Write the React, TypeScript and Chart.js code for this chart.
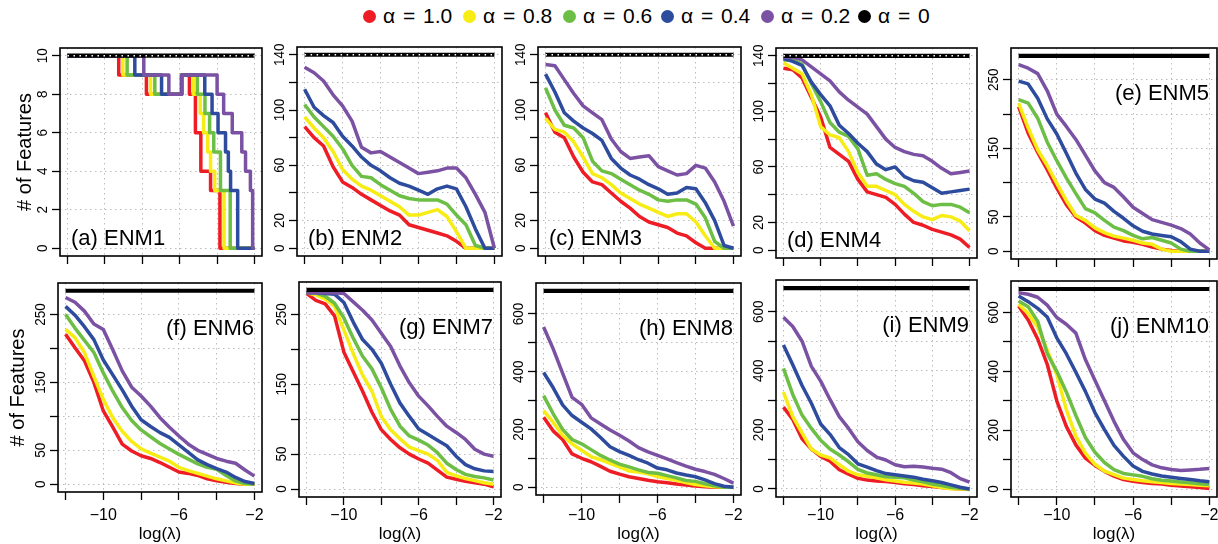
import React, { useEffect, useRef } from 'react';
import { Chart, registerables } from 'chart.js';
Chart.register(...registerables);

const FONT = '"Liberation Sans", Arial, Helvetica, sans-serif';

// ---------- data ----------
const LOG_LAMBDA = [-12, -11.5, -11, -10.5, -10, -9.5, -9, -8.5, -8, -7.5, -7, -6.5, -6, -5.5, -5, -4.5, -4, -3.5, -3, -2.5, -2];
const X_TICKS = [-12, -10, -8, -6, -4, -2];
const X_TICK_LABELS = [-10, -6, -2];
const ALPHA_LABELS = ['α = 1.0', 'α = 0.8', 'α = 0.6', 'α = 0.4', 'α = 0.2', 'α = 0'];
const COLORS = ['#EE1C25', '#F7EC13', '#6DBE45', '#2E4C9E', '#7B52A3', '#000000'];
const PANEL_NAMES = ['(a) ENM1', '(b) ENM2', '(c) ENM3', '(d) ENM4', '(e) ENM5', '(f) ENM6', '(g) ENM7', '(h) ENM8', '(i) ENM9', '(j) ENM10'];
const TOTAL_FEATURES = [10, 140, 140, 140, 285, 285, 285, 680, 680, 680];

const Y_TICKS_A = [0, 2, 4, 6, 8, 10];
const Y_LABELS_A = [0, 2, 4, 6, 8, 10];
const Y_TICKS_140 = [0, 20, 40, 60, 80, 100, 120, 140];
const Y_LABELS_140 = [0, 20, 60, 100, 140];
const Y_TICKS_285 = [0, 50, 100, 150, 200, 250];
const Y_LABELS_285 = [0, 50, 150, 250];
const Y_TICKS_680 = [0, 100, 200, 300, 400, 500, 600];
const Y_LABELS_680 = [0, 200, 400, 600];

// (a) ENM1 — step series, [log(lambda), features]
const ENM1_A10 = [[-12, 10], [-9.26, 9], [-7.78, 8], [-5.9, 9], [-5.48, 8], [-5.16, 6], [-4.87, 4], [-4.35, 3], [-3.85, 0], [-2, 0]];
const ENM1_A08 = [[-12, 10], [-9.04, 9], [-7.56, 8], [-5.9, 9], [-5.28, 8], [-4.9, 7], [-4.72, 6], [-4.5, 5], [-4.35, 4], [-4.13, 3], [-3.63, 0], [-2, 0]];
const ENM1_A06 = [[-12, 10], [-8.81, 9], [-7.33, 8], [-5.9, 9], [-5.06, 8], [-4.65, 7], [-4.4, 6], [-4.18, 5], [-3.82, 3], [-3.3, 0], [-2, 0]];
const ENM1_A04 = [[-12, 10], [-8.4, 9], [-6.97, 8], [-5.9, 9], [-4.66, 8], [-4.27, 7], [-3.95, 6], [-3.55, 5], [-3.4, 4], [-3.28, 3], [-2.9, 0], [-2, 0]];
const ENM1_A02 = [[-12, 10], [-7.92, 9], [-6.58, 8], [-5.88, 9], [-4.0, 8], [-3.65, 7], [-3.19, 6], [-2.68, 5], [-2.48, 4], [-2.22, 3], [-2.1, 0], [-2, 0]];

// (b) ENM2
const ENM2_A10 = [88, 80, 74, 59, 48, 44, 39, 35, 31, 27, 24, 17, 15, 13, 11, 9, 5, 0, 0, 0, 0];
const ENM2_A08 = [95, 87, 80, 70, 57, 50, 45, 42, 38, 34, 30, 24, 24, 26, 28, 23, 12, 0, 0, 0, 0];
const ENM2_A06 = [104, 95, 88, 81, 72, 60, 52, 51, 46, 42, 38, 36, 35, 35, 35, 32, 24, 17, 2, 0, 0];
const ENM2_A04 = [115, 102, 96, 91, 81, 74, 66, 60, 56, 51, 47, 45, 42, 39, 43, 45, 43, 30, 14, 0, 0];
const ENM2_A02 = [131, 127, 121, 111, 103, 92, 73, 69, 70, 66, 62, 58, 54, 55, 56, 58, 58, 51, 39, 26, 0];

// (c) ENM3
const ENM3_A10 = [98, 84, 80, 66, 55, 48, 46, 40, 34, 29, 23, 19, 17, 15, 11, 9, 4, 0, 0, 0, 0];
const ENM3_A08 = [94, 86, 84, 77, 66, 54, 51, 46, 40, 36, 32, 29, 26, 23, 25, 25, 19, 9, 0, 0, 0];
const ENM3_A06 = [116, 100, 89, 87, 80, 63, 56, 54, 50, 46, 42, 39, 35, 34, 35, 35, 32, 22, 5, 0, 0];
const ENM3_A04 = [126, 113, 98, 92, 87, 83, 78, 65, 58, 53, 50, 46, 43, 39, 40, 44, 43, 33, 20, 2, 0];
const ENM3_A02 = [133, 132, 122, 112, 103, 98, 93, 79, 70, 65, 66, 67, 59, 56, 53, 54, 60, 58, 48, 34, 16];

// (d) ENM4
const ENM4_A10 = [131, 130, 124, 110, 96, 74, 69, 64, 51, 42, 40, 38, 33, 26, 20, 18, 15, 13, 11, 8, 2];
const ENM4_A08 = [135, 131, 127, 112, 89, 83, 81, 71, 56, 46, 46, 43, 40, 33, 28, 24, 22, 25, 24, 21, 14];
const ENM4_A06 = [137, 137, 134, 120, 107, 92, 85, 82, 73, 54, 55, 51, 48, 46, 41, 35, 32, 33, 33, 31, 27];
const ENM4_A04 = [138, 136, 133, 121, 112, 104, 90, 84, 77, 71, 62, 58, 60, 53, 50, 49, 45, 41, 42, 43, 44];
const ENM4_A02 = [139, 139, 137, 132, 127, 122, 114, 108, 103, 98, 89, 80, 74, 71, 69, 68, 64, 59, 55, 56, 57];

// (e) ENM5
const ENM5_A10 = [211, 172, 144, 119, 92, 68, 50, 41, 30, 23, 19, 15, 13, 10, 6, 3, 1, 0, 0, 0, 0];
const ENM5_A08 = [216, 180, 148, 125, 99, 74, 52, 45, 34, 27, 22, 19, 16, 12, 10, 3, 0, 0, 0, 0, 0];
const ENM5_A06 = [221, 216, 194, 159, 132, 107, 84, 62, 56, 45, 35, 30, 23, 18, 20, 16, 12, 3, 0, 0, 0];
const ENM5_A04 = [248, 244, 223, 193, 171, 143, 114, 90, 76, 70, 58, 48, 37, 29, 25, 23, 21, 14, 3, 0, 0];
const ENM5_A02 = [272, 267, 259, 234, 200, 182, 163, 140, 117, 100, 93, 79, 64, 55, 46, 42, 38, 33, 25, 12, 2];

// (f) ENM6
const ENM6_A10 = [221, 201, 182, 150, 108, 84, 59, 49, 42, 38, 32, 25, 18, 16, 13, 8, 5, 3, 1, 0, 0];
const ENM6_A08 = [228, 216, 194, 159, 125, 98, 78, 63, 52, 46, 40, 34, 25, 20, 16, 12, 8, 5, 2, 0, 0];
const ENM6_A06 = [250, 230, 212, 194, 164, 137, 113, 94, 80, 70, 60, 52, 44, 37, 30, 25, 22, 13, 5, 1, 0];
const ENM6_A04 = [262, 249, 232, 213, 183, 161, 139, 115, 95, 85, 76, 69, 58, 47, 36, 29, 23, 18, 10, 4, 1];
const ENM6_A02 = [275, 268, 255, 236, 228, 198, 167, 143, 130, 115, 98, 84, 71, 59, 50, 44, 38, 34, 31, 21, 12];

// (g) ENM7
const ENM7_A10 = [280, 270, 265, 248, 196, 168, 140, 110, 85, 71, 59, 50, 43, 37, 27, 17, 14, 11, 9, 7, 3];
const ENM7_A08 = [281, 278, 272, 262, 228, 194, 163, 140, 104, 85, 72, 60, 55, 50, 41, 24, 19, 15, 12, 9, 7];
const ENM7_A06 = [281, 281, 276, 266, 245, 216, 190, 172, 145, 114, 90, 76, 70, 63, 52, 37, 28, 21, 18, 16, 13];
const ENM7_A04 = [281, 281, 280, 279, 267, 239, 214, 200, 180, 150, 123, 104, 86, 78, 70, 62, 47, 35, 29, 26, 25];
const ENM7_A02 = [281, 281, 281, 281, 280, 268, 256, 242, 223, 204, 176, 152, 133, 119, 104, 90, 81, 71, 57, 50, 47];

// (h) ENM8
const ENM8_A10 = [242, 195, 165, 115, 100, 88, 72, 55, 45, 36, 30, 24, 19, 15, 11, 7, 4, 1, 0, 0, 0];
const ENM8_A08 = [265, 225, 180, 150, 128, 106, 95, 82, 70, 56, 52, 46, 37, 30, 24, 16, 9, 5, 1, 0, 0];
const ENM8_A06 = [317, 255, 200, 165, 150, 130, 110, 94, 80, 70, 60, 51, 48, 40, 32, 23, 20, 12, 5, 0, 0];
const ENM8_A04 = [397, 345, 285, 248, 225, 202, 172, 140, 123, 110, 95, 83, 66, 60, 49, 42, 36, 25, 12, 3, 0];
const ENM8_A02 = [555, 480, 395, 311, 287, 240, 219, 198, 180, 160, 137, 122, 110, 98, 85, 73, 62, 54, 44, 30, 14];

// (i) ENM9
const ENM9_A10 = [277, 235, 170, 135, 110, 94, 65, 50, 36, 30, 27, 25, 22, 18, 15, 11, 8, 5, 2, 0, 0];
const ENM9_A08 = [328, 245, 190, 135, 115, 105, 82, 60, 48, 43, 38, 31, 27, 23, 20, 17, 11, 5, 1, 0, 0];
const ENM9_A06 = [408, 320, 250, 205, 165, 135, 115, 92, 66, 54, 48, 41, 40, 38, 30, 24, 17, 12, 6, 2, 0];
const ENM9_A04 = [487, 420, 350, 290, 220, 185, 140, 116, 85, 74, 62, 52, 48, 44, 40, 33, 28, 22, 14, 6, 0];
const ENM9_A02 = [581, 550, 500, 415, 365, 303, 245, 205, 160, 130, 108, 98, 82, 75, 77, 74, 70, 67, 55, 35, 23];

// (j) ENM10
const ENM10_A10 = [622, 575, 510, 424, 300, 213, 150, 105, 80, 60, 44, 32, 26, 22, 19, 17, 13, 10, 8, 5, 2];
const ENM10_A08 = [628, 597, 550, 473, 389, 270, 180, 122, 84, 61, 49, 37, 32, 28, 25, 22, 19, 17, 15, 13, 11];
const ENM10_A06 = [639, 620, 570, 460, 400, 330, 250, 175, 125, 90, 66, 53, 48, 43, 35, 30, 27, 24, 21, 18, 15];
const ENM10_A04 = [656, 637, 614, 585, 514, 460, 397, 332, 260, 202, 148, 111, 78, 60, 51, 44, 40, 36, 32, 28, 25];
const ENM10_A02 = [667, 662, 652, 625, 583, 560, 530, 440, 370, 300, 230, 168, 123, 100, 82, 72, 66, 63, 65, 67, 70];

const SERIES = [
  [ENM1_A10, ENM1_A08, ENM1_A06, ENM1_A04, ENM1_A02],
  [ENM2_A10, ENM2_A08, ENM2_A06, ENM2_A04, ENM2_A02],
  [ENM3_A10, ENM3_A08, ENM3_A06, ENM3_A04, ENM3_A02],
  [ENM4_A10, ENM4_A08, ENM4_A06, ENM4_A04, ENM4_A02],
  [ENM5_A10, ENM5_A08, ENM5_A06, ENM5_A04, ENM5_A02],
  [ENM6_A10, ENM6_A08, ENM6_A06, ENM6_A04, ENM6_A02],
  [ENM7_A10, ENM7_A08, ENM7_A06, ENM7_A04, ENM7_A02],
  [ENM8_A10, ENM8_A08, ENM8_A06, ENM8_A04, ENM8_A02],
  [ENM9_A10, ENM9_A08, ENM9_A06, ENM9_A04, ENM9_A02],
  [ENM10_A10, ENM10_A08, ENM10_A06, ENM10_A04, ENM10_A02],
];

// ---------- layout (page pixels) ----------
const BOXES = [
  { l: 60, r: 262, t: 48, b: 256 },
  { l: 297, r: 502, t: 47, b: 256 },
  { l: 538, r: 741, t: 47, b: 256 },
  { l: 776, r: 977, t: 48, b: 258 },
  { l: 1011, r: 1217, t: 48, b: 259 },
  { l: 58, r: 262, t: 283, b: 492 },
  { l: 299, r: 501, t: 282, b: 497 },
  { l: 536, r: 741, t: 283, b: 495 },
  { l: 776, r: 977, t: 280, b: 497 },
  { l: 1011, r: 1217, t: 281, b: 497 },
];
const Y_TICK_SETS = [Y_TICKS_A, Y_TICKS_140, Y_TICKS_140, Y_TICKS_140, Y_TICKS_285, Y_TICKS_285, Y_TICKS_285, Y_TICKS_680, Y_TICKS_680, Y_TICKS_680];
const Y_LABEL_SETS = [Y_LABELS_A, Y_LABELS_140, Y_LABELS_140, Y_LABELS_140, Y_LABELS_285, Y_LABELS_285, Y_LABELS_285, Y_LABELS_680, Y_LABELS_680, Y_LABELS_680];
const LEGEND_X = [370, 470, 570, 668, 768, 865];

function Panel({ idx }: { idx: number }) {
  const ref = useRef<HTMLCanvasElement | null>(null);
  const box = BOXES[idx];
  const row = idx < 5 ? 0 : 1;
  const col = idx % 5;
  const leftSpace = col === 0 ? box.l : 50;
  const topSpace = 10;
  const rightSpace = 14;
  const bottomSpace = row === 0 ? 20 : 544 - box.b;
  const cw = box.r - box.l + leftSpace + rightSpace;
  const ch = box.b - box.t + topSpace + bottomSpace;
  const cx = box.l - leftSpace;
  const cy = box.t - topSpace;

  useEffect(() => {
    const canvas = ref.current;
    if (!canvas) return;
    const total = TOTAL_FEATURES[idx];
    const yPad = total * 0.04;
    const datasets: any[] = SERIES[idx].map((s: any[], k: number) => ({
      label: ALPHA_LABELS[k],
      data: idx === 0
        ? s.map((p: number[]) => ({ x: p[0], y: p[1] }))
        : s.map((v: number, i: number) => ({ x: LOG_LAMBDA[i], y: v })),
      borderColor: COLORS[k],
      backgroundColor: COLORS[k],
      borderWidth: 3.5,
      pointRadius: 0,
      tension: 0,
      stepped: idx === 0 ? 'before' : false,
      borderJoinStyle: 'round',
      order: 5 - k,
    }));
    const totalLine = [{ x: LOG_LAMBDA[0], y: total }, { x: LOG_LAMBDA[LOG_LAMBDA.length - 1], y: total }];
    datasets.push({
      label: ALPHA_LABELS[5], data: totalLine, borderColor: '#000', borderWidth: 4.2,
      pointRadius: 0, order: 0,
    });
    if (idx < 4) {
      datasets.push({
        label: 'α = 0 (pts)', data: totalLine, borderColor: '#ffffff', borderWidth: 1.4,
        borderDash: [1.5, 4.5], pointRadius: 0, order: -1,
      });
    }

    const decor = {
      id: 'decor',
      afterDatasetsDraw(chart: any) {
        const { ctx, chartArea: a, scales } = chart;
        ctx.save();
        ctx.fillStyle = '#000';
        // y tick labels (rotated, as in R)
        ctx.font = `15px ${FONT}`;
        for (const v of Y_LABEL_SETS[idx]) {
          const py = scales.y.getPixelForValue(v);
          ctx.save();
          ctx.translate(a.left - 13, py);
          ctx.rotate(-Math.PI / 2);
          ctx.scale(0.9, 1);
          ctx.textAlign = 'center';
          ctx.textBaseline = 'alphabetic';
          ctx.fillText(String(v), 0, 0);
          ctx.restore();
        }
        // panel label
        ctx.font = `22px ${FONT}`;
        ctx.textBaseline = 'middle';
        if (idx < 4) {
          ctx.textAlign = 'left';
          ctx.fillText(PANEL_NAMES[idx], a.left + 11, a.bottom - 17);
        } else {
          ctx.textAlign = 'right';
          ctx.fillText(PANEL_NAMES[idx], a.right - 8, a.top + 46);
        }
        // axis titles
        if (col === 0) {
          ctx.save();
          ctx.font = `20px ${FONT}`;
          ctx.translate(row === 0 ? 25 - cx : 18 - cx, (a.top + a.bottom) / 2);
          ctx.rotate(-Math.PI / 2);
          ctx.textAlign = 'center';
          ctx.textBaseline = 'middle';
          ctx.fillText('# of Features', 0, 0);
          ctx.restore();
        }
        if (row === 1) {
          ctx.font = `17px ${FONT}`;
          ctx.textAlign = 'center';
          ctx.textBaseline = 'middle';
          ctx.fillText('log(λ)', (a.left + a.right) / 2, 534 - cy);
        }
        // box
        ctx.lineWidth = 1.6;
        ctx.strokeStyle = '#000';
        ctx.strokeRect(a.left, a.top, a.right - a.left, a.bottom - a.top);
        ctx.restore();
      },
    };

    const chart = new Chart(canvas, {
      type: 'line',
      data: { datasets },
      options: {
        responsive: false,
        animation: false,
        events: [],
        layout: { padding: { left: 0, top: topSpace, right: rightSpace, bottom: 0 } },
        plugins: { legend: { display: false }, tooltip: { enabled: false } },
        scales: {
          x: {
            type: 'linear',
            min: -12.4,
            max: -1.6,
            afterBuildTicks: (s: any) => { s.ticks = X_TICKS.map((v) => ({ value: v })); },
            afterFit: (s: any) => { s.height = bottomSpace; },
            ticks: {
              display: row === 1,
              autoSkip: false,
              maxRotation: 0,
              minRotation: 0,
              padding: Math.max(0, Math.round(517 - box.b - 18.6)),
              color: '#000',
              font: { family: FONT, size: 16 },
              callback: (v: any) => (X_TICK_LABELS.includes(v) ? '\u2212' + Math.abs(v) : ''),
            },
            grid: { color: '#bcbcbc', lineWidth: 1, drawTicks: true, tickLength: 8, tickColor: '#000', tickWidth: 1.3 },
            border: { display: false, dash: [1.5, 3.5] },
          },
          y: {
            type: 'linear',
            min: -yPad,
            max: total + yPad,
            afterBuildTicks: (s: any) => { s.ticks = Y_TICK_SETS[idx].map((v) => ({ value: v })); },
            afterFit: (s: any) => { s.width = leftSpace; },
            ticks: { display: false },
            grid: { color: '#bcbcbc', lineWidth: 1, drawTicks: true, tickLength: 8, tickColor: '#000', tickWidth: 1.3 },
            border: { display: false, dash: [1.5, 3.5] },
          },
        },
      } as any,
      plugins: [decor],
    });
    return () => chart.destroy();
  }, []);

  return (
    <canvas
      ref={ref}
      width={cw}
      height={ch}
      style={{ position: 'absolute', left: cx, top: cy, width: cw, height: ch }}
    />
  );
}

export default function App() {
  return (
    <div
      style={{
        position: 'fixed', left: 0, top: 0, width: 1218, height: 544,
        background: '#fff', overflow: 'hidden', fontFamily: FONT,
      }}
    >
      {ALPHA_LABELS.map((lab, k) => (
        <div
          key={lab}
          style={{
            position: 'absolute', left: LEGEND_X[k] - 7, top: 4, height: 24,
            display: 'flex', alignItems: 'center', whiteSpace: 'nowrap',
          }}
        >
          <span style={{ width: 13, height: 13, borderRadius: '50%', background: COLORS[k], display: 'inline-block', marginRight: 7 }} />
          <span style={{ fontSize: 21, color: '#000', wordSpacing: 2 }}>{lab}</span>
        </div>
      ))}
      {BOXES.map((_, i) => (
        <Panel key={i} idx={i} />
      ))}
    </div>
  );
}
